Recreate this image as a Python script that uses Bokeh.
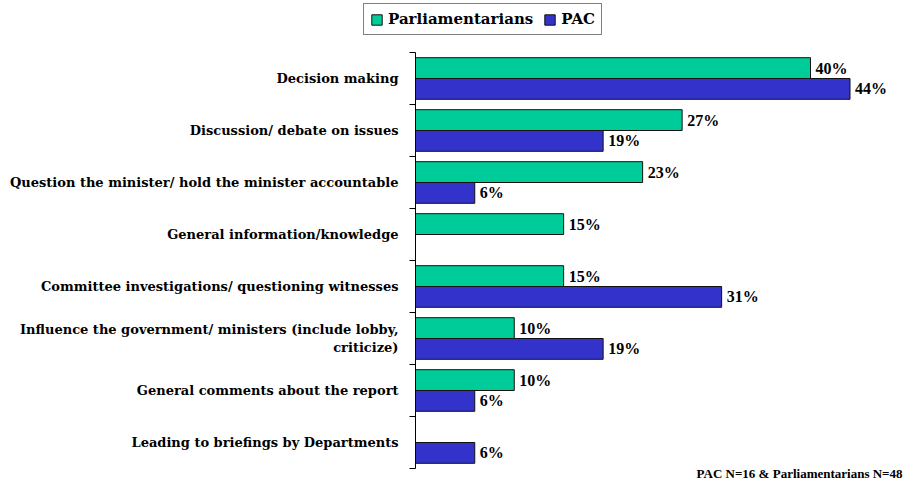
from bokeh.plotting import figure
from bokeh.models import (ColumnDataSource, Range1d, FixedTicker, Legend, LegendItem, Label)
from bokeh.transform import dodge
from bokeh.embed import file_html
from bokeh.resources import INLINE

categories = [
    "Decision making",
    "Discussion/ debate on issues",
    "Question the minister/ hold the minister accountable",
    "General information/knowledge",
    "Committee investigations/ questioning witnesses",
    "Influence the government/ ministers (include lobby,\ncriticize)",
    "General comments about the report",
    "Leading to briefings by Departments",
]
parliamentarians = [40, 27, 23, 15, 15, 10, 10, 0]
pac = [44, 19, 6, 0, 31, 19, 6, 6]
series_names = ["Parliamentarians", "PAC"]
colors = ["#00CC99", "#3333CC"]
footnote = "PAC N=16 & Parliamentarians N=48"

FONT = "DejaVu Serif"
n = len(categories)
pos = [i + 0.5 for i in range(n)]

# layout (pixels)
W, H = 903, 481
axis_px = 415          # x pixel of the value axis
px_per_unit = 9.875    # pixels per percentage point
cat_top_px = 52        # y pixel of the first category boundary
px_per_cat = 52

x_range = Range1d(-axis_px / px_per_unit, (W - axis_px) / px_per_unit)
y_range = Range1d((H - cat_top_px) / px_per_cat, -cat_top_px / px_per_cat)

p = figure(width=W, height=H, output_backend="svg", toolbar_location=None,
           x_range=x_range, y_range=y_range, x_axis_location=None,
           min_border=0, min_border_left=0, min_border_right=0,
           min_border_top=0, min_border_bottom=0)
p.outline_line_color = None
p.grid.visible = False
p.background_fill_color = "white"
p.border_fill_color = "white"

src_g = ColumnDataSource(dict(y=pos, v=parliamentarians,
                              lab=[f"{v}%" if v else "" for v in parliamentarians]))
src_b = ColumnDataSource(dict(y=pos, v=pac,
                              lab=[f"{v}%" if v else "" for v in pac]))

rg = p.hbar(y=dodge("y", -0.2), right="v", left=0, height=0.4, source=src_g,
            fill_color=colors[0], line_color="#111111", line_width=1)
rb = p.hbar(y=dodge("y", 0.2), right="v", left=0, height=0.4, source=src_b,
            fill_color=colors[1], line_color="#111111", line_width=1)

for src, off in ((src_g, -0.2), (src_b, 0.2)):
    p.text(x="v", y=dodge("y", off), text="lab", source=src, x_offset=5,
           text_baseline="middle", text_align="left", text_font=FONT,
           text_font_style="bold", text_font_size="16px", text_color="black")

ax = p.yaxis[0]
ax.fixed_location = 0
ax.bounds = (0, n)
ax.ticker = FixedTicker(ticks=pos, minor_ticks=list(range(n + 1)))
ax.major_label_overrides = {v: c for v, c in zip(pos, categories)}
ax.major_tick_line_color = None
ax.major_tick_out = 0
ax.major_tick_in = 0
ax.minor_tick_out = 6
ax.minor_tick_in = 0
ax.minor_tick_line_color = "black"
ax.axis_line_color = "black"
ax.major_label_standoff = 11
ax.major_label_text_font = FONT
ax.major_label_text_font_style = "bold"
ax.major_label_text_font_size = "13px"
ax.major_label_text_color = "black"

legend = Legend(items=[LegendItem(label=series_names[0], renderers=[rg]),
                       LegendItem(label=series_names[1], renderers=[rb])],
                orientation="horizontal", location=(363, H - 35),
                label_text_font=FONT, label_text_font_style="bold",
                label_text_font_size="15px", label_text_color="black",
                glyph_width=13, glyph_height=13,
                label_standoff=5, spacing=10, padding=6, margin=0,
                border_line_color="black", border_line_width=1,
                background_fill_alpha=1)
p.add_layout(legend, "center")

p.add_layout(Label(x=W - 1, y=1, x_units="screen", y_units="screen", text=footnote,
                   text_align="right", text_baseline="bottom",
                   text_font="Liberation Serif", text_font_style="bold",
                   text_font_size="13px", text_color="black"))

open("out.html", "w").write(file_html(p, INLINE))
